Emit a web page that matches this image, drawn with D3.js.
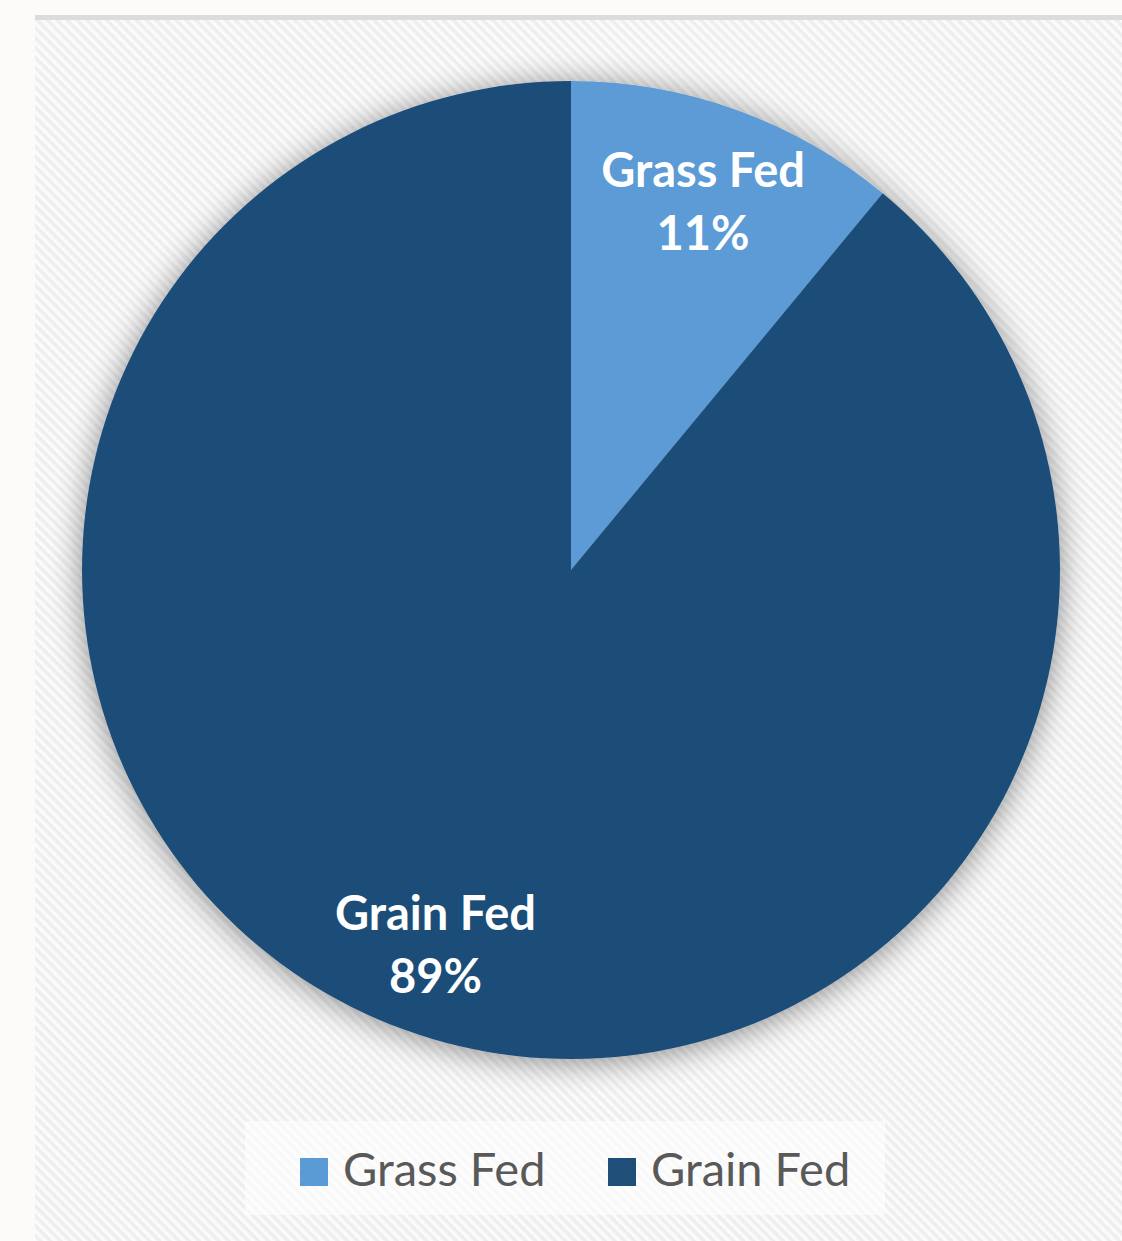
<!DOCTYPE html>
<html><head><meta charset="utf-8">
<script src="https://cdn.jsdelivr.net/npm/d3@7"></script>
<style>html,body{margin:0;padding:0;background:#fcfbf9;}svg{display:block;}</style>
</head><body>
<script>
const categories = ["Grass Fed", "Grain Fed"];
const values = [11, 89];
const labels = ["11%", "89%"];
const colors = ["#5b9bd5", "#1f4e79"];

const W = 1122, H = 1241;
const svg = d3.select("body").append("svg").attr("width", W).attr("height", H);
const defs = svg.append("defs");

const pat = defs.append("pattern").attr("id", "hatch").attr("patternUnits", "userSpaceOnUse")
  .attr("width", 7).attr("height", 7).attr("patternTransform", "rotate(-45)");
pat.append("rect").attr("width", 7).attr("height", 7).attr("fill", "#eeeeee");
pat.append("rect").attr("width", 3.5).attr("height", 7).attr("fill", "#fbfbfb");

const f = defs.append("filter").attr("id", "shadow").attr("x", "-20%").attr("y", "-20%").attr("width", "140%").attr("height", "140%");
f.append("feGaussianBlur").attr("in", "SourceAlpha").attr("stdDeviation", 16).attr("result", "b");
f.append("feOffset").attr("in", "b").attr("dx", 0).attr("dy", 3).attr("result", "o");
f.append("feComponentTransfer").attr("in", "o").attr("result", "s")
  .append("feFuncA").attr("type", "linear").attr("slope", 0.45);
const m = f.append("feMerge");
m.append("feMergeNode").attr("in", "s");
m.append("feMergeNode").attr("in", "SourceGraphic");

// plot area
svg.append("rect").attr("x", 35).attr("y", 20).attr("width", W - 35).attr("height", H - 20).attr("fill", "url(#hatch)");
svg.append("rect").attr("x", 35).attr("y", 15).attr("width", W - 35).attr("height", 5).attr("fill", "#dcdcdc");

const cx = 571, cy = 570, R = 489;
const pie = d3.pie().sort(null).value(d => d.v);
const data = pie(categories.map((c, i) => ({ c, v: values[i], l: labels[i], col: colors[i] })));
const arc = d3.arc().innerRadius(0).outerRadius(R);

const g = svg.append("g").attr("transform", `translate(${cx},${cy})`);
const shadowG = g.append("g").attr("filter", "url(#shadow)");
shadowG.selectAll("path").data(data).join("path")
  .attr("d", arc).attr("fill", d => d.data.col);

const lab = g.selectAll("text.lbl").data(data).join("text").attr("class", "lbl")
  .attr("text-anchor", "middle").attr("fill", "#ffffff")
  .style("font-family", "Lato, 'Open Sans', sans-serif").style("font-weight", "bold").style("font-size", "47px")
  .attr("transform", (d, i) => {
    const a = (d.startAngle + d.endAngle) / 2;
    const r = i === 0 ? 390 : 400;
    return `translate(${Math.sin(a) * r},${-Math.cos(a) * r})`;
  });
lab.append("tspan").attr("x", 0).attr("y", -16).text(d => d.data.c);
lab.append("tspan").attr("x", 0).attr("y", 47).text(d => d.data.l);

// legend
const leg = svg.append("g");
leg.append("rect").attr("x", 245).attr("y", 1121).attr("width", 640).attr("height", 94).attr("fill", "#ffffff").attr("opacity", 0.6);
const lx = [300, 608];
categories.forEach((c, i) => {
  leg.append("rect").attr("x", lx[i]).attr("y", 1158).attr("width", 28).attr("height", 28).attr("fill", colors[i]);
  leg.append("text").attr("x", lx[i] + 43).attr("y", 1186).text(c)
    .attr("fill", "#595959").style("font-family", "Lato, 'Open Sans', sans-serif").style("font-size", "47px");
});
</script>
</body></html>
